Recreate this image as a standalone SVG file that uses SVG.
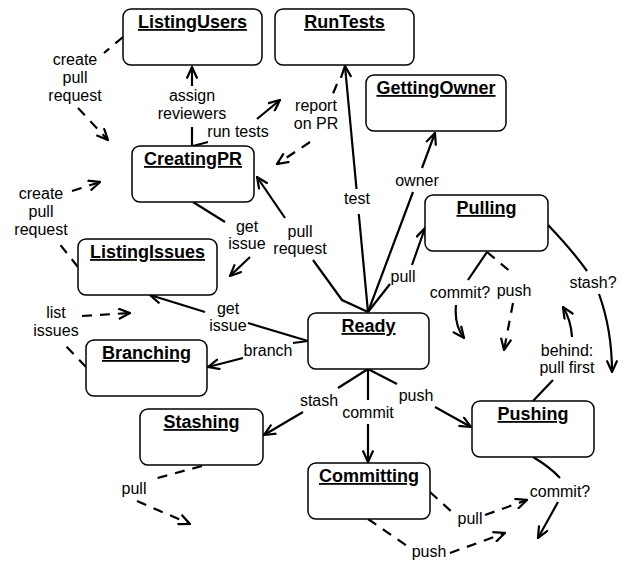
<svg xmlns="http://www.w3.org/2000/svg" width="623" height="563" viewBox="0 0 623 563">
<style>
.box{fill:#fff;stroke:#000;stroke-width:1.5}
.title{font-family:"Liberation Sans",Arial,Helvetica,sans-serif;font-size:18px;font-weight:bold;text-decoration:underline;text-anchor:middle;fill:#000}
.lbl{font-family:"Liberation Sans",Arial,Helvetica,sans-serif;font-size:16px;text-anchor:middle;fill:#000}
.e{fill:none;stroke:#000;stroke-width:2.2;marker-end:url(#arr)}
.d{stroke-dasharray:10,8}
</style>
<defs>
<marker id="arr" markerUnits="userSpaceOnUse" viewBox="0 0 13 12" refX="12" refY="6" markerWidth="13" markerHeight="12" orient="auto">
<path d="M0.5,0.8 L12,6 L0.5,11.2" fill="none" stroke="#000" stroke-width="2.2"/>
</marker>
</defs>
<g id="connectors">
<path class="e d" d="M123,37 L104,53 M78,108 L108,140"/>
<path class="e" d="M192,146 L192,127 M192,86 L192,67"/>
<path class="e" d="M193,146 L208,142 M257,119 L280,100"/>
<path class="e d" d="M337,84 L332,96 M310,142 L277,164"/>
<path class="e" d="M368,312 L358.8,214 M356.5,189 L345,66"/>
<path class="e" d="M368,312 L413,192 M422,168 L435,133"/>
<path class="e" d="M368,312 L390,284 M412,265 L425,228"/>
<path class="e" d="M368,312 L342,300 L313,260 M285,218 L257,177"/>
<path class="e" d="M193,202 L225,222 M250,257 L230,276"/>
<path class="e" d="M308,341 L248,323 M205,312 L150,295"/>
<path class="e" d="M308,341 L293,343 M243,358 L208,367"/>
<path class="e d" d="M78,267 L58,242 M72,191 L100,182"/>
<path class="e d" d="M86,367 L63,343 M82,316 L130,313"/>
<path class="e" d="M368,369 L338,388 M303,412 L264,435"/>
<path class="e" d="M368,369 L368,400 M368,424 L368,462"/>
<path class="e" d="M368,369 L397,384 M435,407 L471,427"/>
<path class="e d" d="M202,466 L150,480 M137,501 L190,524"/>
<path class="e d" d="M430,492 L453,513 M485,515 L527,500"/>
<path class="e d" d="M368,519 L410,548 M450,553 L505,533"/>
<path class="e" d="M533,457 Q550,467 560,478 M558,502 L538,538"/>
<path class="e" d="M533,401 L553,380 M572,337 Q571,320 563,307"/>
<path class="e" d="M548,225 Q572,250 587,271 M599,294 Q612,330 612,372"/>
<path class="e" d="M487,252 L468,280 M456,305 Q454,325 464,338"/>
<path class="e d" d="M487,252 L512,273 M513,303 L504,350"/>
</g>
<g id="labels">
<text class="lbl" x="75" y="65">create</text>
<text class="lbl" x="75" y="83">pull</text>
<text class="lbl" x="75" y="101">request</text>
<text class="lbl" x="192" y="101">assign</text>
<text class="lbl" x="192" y="119">reviewers</text>
<text class="lbl" x="238" y="137">run tests</text>
<text class="lbl" x="316" y="111">report</text>
<text class="lbl" x="316" y="129">on PR</text>
<text class="lbl" x="357" y="204">test</text>
<text class="lbl" x="417" y="186">owner</text>
<text class="lbl" x="403" y="282">pull</text>
<text class="lbl" x="300" y="237">pull</text>
<text class="lbl" x="300" y="254">request</text>
<text class="lbl" x="247" y="232">get</text>
<text class="lbl" x="247" y="249">issue</text>
<text class="lbl" x="228" y="314">get</text>
<text class="lbl" x="228" y="331">issue</text>
<text class="lbl" x="268" y="356">branch</text>
<text class="lbl" x="41" y="199">create</text>
<text class="lbl" x="41" y="217">pull</text>
<text class="lbl" x="41" y="235">request</text>
<text class="lbl" x="56" y="318">list</text>
<text class="lbl" x="56" y="336">issues</text>
<text class="lbl" x="319" y="406">stash</text>
<text class="lbl" x="368" y="418">commit</text>
<text class="lbl" x="416" y="401">push</text>
<text class="lbl" x="134" y="494">pull</text>
<text class="lbl" x="470" y="524">pull</text>
<text class="lbl" x="429" y="557">push</text>
<text class="lbl" x="560" y="497">commit?</text>
<text class="lbl" x="567" y="356">behind:</text>
<text class="lbl" x="567" y="373">pull first</text>
<text class="lbl" x="593" y="288">stash?</text>
<text class="lbl" x="460" y="298">commit?</text>
<text class="lbl" x="514" y="296">push</text>
</g>
<g id="ListingUsers"><rect class="box" x="123" y="9" width="139" height="56" rx="8"/><text class="title" x="192.5" y="28">ListingUsers</text></g>
<g id="RunTests"><rect class="box" x="275" y="9" width="139" height="56" rx="8"/><text class="title" x="344.5" y="28">RunTests</text></g>
<g id="GettingOwner"><rect class="box" x="366" y="75" width="140" height="56" rx="8"/><text class="title" x="436" y="94">GettingOwner</text></g>
<g id="CreatingPR"><rect class="box" x="132" y="146" width="122" height="56" rx="8"/><text class="title" x="193" y="165">CreatingPR</text></g>
<g id="ListingIssues"><rect class="box" x="78" y="239" width="139" height="56" rx="8"/><text class="title" x="147.5" y="258">ListingIssues</text></g>
<g id="Branching"><rect class="box" x="86" y="340" width="121" height="56" rx="8"/><text class="title" x="146.5" y="359">Branching</text></g>
<g id="Ready"><rect class="box" x="308" y="313" width="121" height="56" rx="8"/><text class="title" x="368.5" y="332">Ready</text></g>
<g id="Stashing"><rect class="box" x="140" y="409" width="123" height="56" rx="8"/><text class="title" x="201.5" y="428">Stashing</text></g>
<g id="Committing"><rect class="box" x="308" y="463" width="122" height="56" rx="8"/><text class="title" x="369" y="482">Committing</text></g>
<g id="Pulling"><rect class="box" x="425" y="195" width="123" height="56" rx="8"/><text class="title" x="486.5" y="214">Pulling</text></g>
<g id="Pushing"><rect class="box" x="472" y="401" width="122" height="56" rx="8"/><text class="title" x="533" y="420">Pushing</text></g>
</svg>
